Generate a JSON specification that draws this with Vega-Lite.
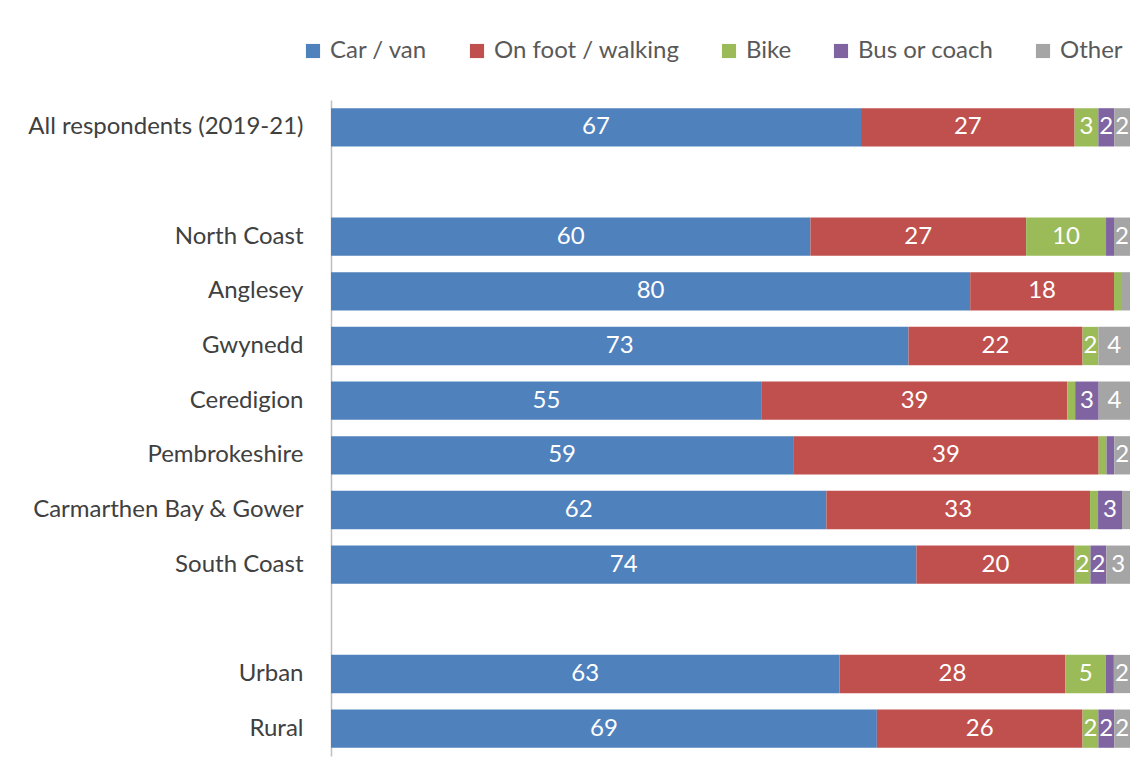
{
  "$schema": "https://vega.github.io/schema/vega-lite/v6.json",
  "width": 799,
  "height": 656,
  "autosize": {"type": "none"},
  "padding": {"left": 331, "top": 100, "right": 16, "bottom": 24},
  "background": "white",
  "config": {"view": {"stroke": null}, "font": "Lato"},
  "data": {"values": [
    {"region": "All respondents (2019-21)", "mode": "Car / van", "pct": 67},
    {"region": "All respondents (2019-21)", "mode": "On foot / walking", "pct": 27},
    {"region": "All respondents (2019-21)", "mode": "Bike", "pct": 3},
    {"region": "All respondents (2019-21)", "mode": "Bus or coach", "pct": 2},
    {"region": "All respondents (2019-21)", "mode": "Other", "pct": 2},
    {"region": "North Coast", "mode": "Car / van", "pct": 60},
    {"region": "North Coast", "mode": "On foot / walking", "pct": 27},
    {"region": "North Coast", "mode": "Bike", "pct": 10},
    {"region": "North Coast", "mode": "Bus or coach", "pct": 1},
    {"region": "North Coast", "mode": "Other", "pct": 2},
    {"region": "Anglesey", "mode": "Car / van", "pct": 80},
    {"region": "Anglesey", "mode": "On foot / walking", "pct": 18},
    {"region": "Anglesey", "mode": "Bike", "pct": 1},
    {"region": "Anglesey", "mode": "Bus or coach", "pct": 0},
    {"region": "Anglesey", "mode": "Other", "pct": 1},
    {"region": "Gwynedd", "mode": "Car / van", "pct": 73},
    {"region": "Gwynedd", "mode": "On foot / walking", "pct": 22},
    {"region": "Gwynedd", "mode": "Bike", "pct": 2},
    {"region": "Gwynedd", "mode": "Bus or coach", "pct": 0},
    {"region": "Gwynedd", "mode": "Other", "pct": 4},
    {"region": "Ceredigion", "mode": "Car / van", "pct": 55},
    {"region": "Ceredigion", "mode": "On foot / walking", "pct": 39},
    {"region": "Ceredigion", "mode": "Bike", "pct": 1},
    {"region": "Ceredigion", "mode": "Bus or coach", "pct": 3},
    {"region": "Ceredigion", "mode": "Other", "pct": 4},
    {"region": "Pembrokeshire", "mode": "Car / van", "pct": 59},
    {"region": "Pembrokeshire", "mode": "On foot / walking", "pct": 39},
    {"region": "Pembrokeshire", "mode": "Bike", "pct": 1},
    {"region": "Pembrokeshire", "mode": "Bus or coach", "pct": 1},
    {"region": "Pembrokeshire", "mode": "Other", "pct": 2},
    {"region": "Carmarthen Bay & Gower", "mode": "Car / van", "pct": 62},
    {"region": "Carmarthen Bay & Gower", "mode": "On foot / walking", "pct": 33},
    {"region": "Carmarthen Bay & Gower", "mode": "Bike", "pct": 1},
    {"region": "Carmarthen Bay & Gower", "mode": "Bus or coach", "pct": 3},
    {"region": "Carmarthen Bay & Gower", "mode": "Other", "pct": 1},
    {"region": "South Coast", "mode": "Car / van", "pct": 74},
    {"region": "South Coast", "mode": "On foot / walking", "pct": 20},
    {"region": "South Coast", "mode": "Bike", "pct": 2},
    {"region": "South Coast", "mode": "Bus or coach", "pct": 2},
    {"region": "South Coast", "mode": "Other", "pct": 3},
    {"region": "Urban", "mode": "Car / van", "pct": 63},
    {"region": "Urban", "mode": "On foot / walking", "pct": 28},
    {"region": "Urban", "mode": "Bike", "pct": 5},
    {"region": "Urban", "mode": "Bus or coach", "pct": 1},
    {"region": "Urban", "mode": "Other", "pct": 2},
    {"region": "Rural", "mode": "Car / van", "pct": 69},
    {"region": "Rural", "mode": "On foot / walking", "pct": 26},
    {"region": "Rural", "mode": "Bike", "pct": 2},
    {"region": "Rural", "mode": "Bus or coach", "pct": 2},
    {"region": "Rural", "mode": "Other", "pct": 2}
  ]},
  "transform": [
    {"window": [{"op": "row_number", "as": "k"}]}
  ],
  "encoding": {
    "y": {
      "field": "region",
      "type": "nominal",
      "scale": {
        "domain": ["All respondents (2019-21)", " ", "North Coast", "Anglesey", "Gwynedd", "Ceredigion", "Pembrokeshire", "Carmarthen Bay & Gower", "South Coast", "  ", "Urban", "Rural"],
        "paddingInner": 0.3,
        "paddingOuter": 0.15
      },
      "axis": {
        "title": null,
        "ticks": false,
        "domainColor": "#BFBFBF",
        "domainWidth": 1.5,
        "labelFontSize": 24,
        "labelColor": "#404040",
        "labelPadding": 28,
        "labelLimit": 400,
        "labelFont": "Lato"
      }
    },
    "x": {
      "field": "pct",
      "type": "quantitative",
      "stack": "normalize",
      "scale": {"domain": [0, 1], "nice": false},
      "axis": null
    },
    "order": {"field": "k", "type": "quantitative"}
  },
  "resolve": {"scale": {"color": "independent"}, "legend": {"color": "independent"}},
  "layer": [
    {
      "mark": {"type": "bar"},
      "encoding": {
        "color": {
          "field": "mode",
          "type": "nominal",
          "sort": ["Car / van", "On foot / walking", "Bike", "Bus or coach", "Other"],
          "scale": {
            "domain": ["Car / van", "On foot / walking", "Bike", "Bus or coach", "Other"],
            "range": ["#4F81BD", "#C0504D", "#9BBB59", "#8064A2", "#A5A5A5"]
          },
          "legend": {
            "title": null,
            "orient": "none",
            "direction": "horizontal",
            "legendX": -30,
            "legendY": -61,
            "symbolType": "square",
            "symbolSize": 200,
            "symbolOpacity": 1,
            "labelFontSize": 24,
            "labelColor": "#595959",
            "labelFont": "Lato",
            "labelLimit": 400,
            "labelOffset": 5,
            "columnPadding": 37,
            "symbolStrokeWidth": 0
          }
        }
      }
    },
    {
      "mark": {"type": "text", "fontSize": 24, "font": "Lato", "align": "center", "baseline": "middle"},
      "encoding": {
        "x": {
          "field": "pct",
          "type": "quantitative",
          "stack": "normalize",
          "bandPosition": 0.5
        },
        "color": {
          "field": "mode",
          "type": "nominal",
          "sort": ["Car / van", "On foot / walking", "Bike", "Bus or coach", "Other"],
          "scale": {
            "domain": ["Car / van", "On foot / walking", "Bike", "Bus or coach", "Other"],
            "range": ["white", "white", "white", "white", "white"]
          },
          "legend": null
        },
        "text": {
          "condition": {"test": "datum.pct < 2", "value": ""},
          "field": "pct",
          "type": "quantitative"
        }
      }
    }
  ]
}
